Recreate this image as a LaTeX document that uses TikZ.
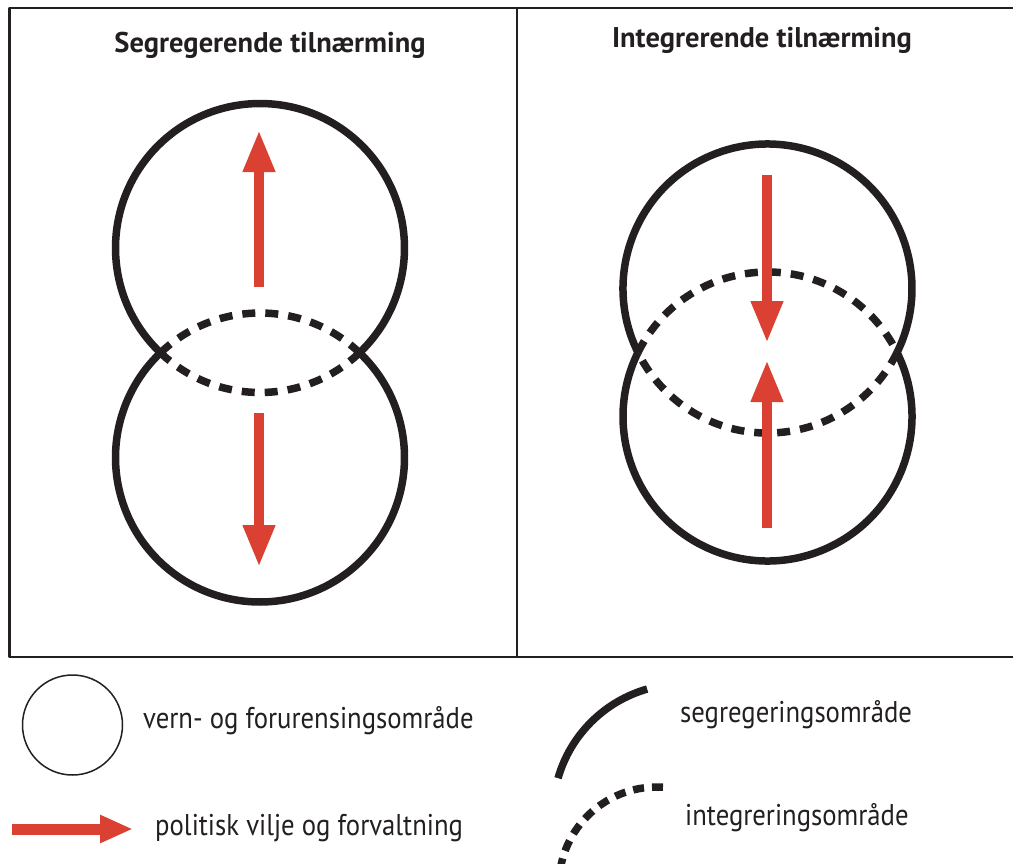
\documentclass[tikz,border=0pt]{standalone}
\usepackage{fontspec}
\setmainfont{PT Sans}
\newfontfamily\legendfont[FakeStretch=0.89]{PT Sans}
\usetikzlibrary{arrows.meta}
\definecolor{arrowred}{RGB}{218,65,50}
\definecolor{inkblack}{RGB}{35,31,32}

\begin{document}
\begin{tikzpicture}[line cap=butt,line join=round,x=1pt,y=-1pt,
  zone/.style={line width=7.5pt,color=inkblack},
  overlap/.style={zone,dash pattern=on 13pt off 10pt},
  policy/.style={line width=10pt,color=arrowred,-{Triangle[length=42pt,width=30pt]}},
  paneltitle/.style={inner sep=0pt,anchor=base,color=inkblack,font=\fontsize{28.5}{31}\selectfont\bfseries},
  legendtext/.style={inner sep=0pt,anchor=base west,color=inkblack,font=\legendfont\fontsize{30}{33}\selectfont}]
\clip(0,0) rectangle (1013,863);
\draw [line width=2.5pt,color=inkblack] (1020,8)-- (9.5,8)-- (9.5,657)-- (1020,657);
\draw [line width=2.5pt,color=inkblack] (517,8)-- (517,657);
\node[paneltitle] (segtitle) at (270,52) {Segregerende tilnærming};
\node[paneltitle] (inttitle) at (762,47) {Integrerende tilnærming};
% segregerende
\coordinate (segtop) at (260,248);
\coordinate (segbot) at (260,457.5);
\draw [zone] (segtop) ++(133.5:144.5) arc[start angle=133.5,end angle=406.5,radius=144.5];
\draw [zone] (segbot) ++(-46.5:144.5) arc[start angle=-46.5,end angle=226.5,radius=144.5];
\draw [overlap] (segtop) ++(46.5:144.5) arc[start angle=46.5,end angle=133.5,radius=144.5];
\draw [overlap] (segbot) ++(226.5:144.5) arc[start angle=226.5,end angle=313.5,radius=144.5];
\draw [policy] (259,287)-- (259,130);
\draw [policy] (259,413)-- (259,567);
% integrerende
\coordinate (inttop) at (767.5,288.5);
\coordinate (intbot) at (767.5,416.5);
\draw [zone] (inttop) ++(153.7:144.5) arc[start angle=153.7,end angle=386.3,radius=144.5];
\draw [zone] (intbot) ++(-26.3:144.5) arc[start angle=-26.3,end angle=206.3,radius=144.5];
\draw [overlap] (inttop) ++(26.3:144.5) arc[start angle=26.3,end angle=153.7,radius=144.5];
\draw [overlap] (intbot) ++(206.3:144.5) arc[start angle=206.3,end angle=333.7,radius=144.5];
\draw [policy] (767,175)-- (767,343);
\draw [policy] (767,528)-- (767,360);
% legend
\node[draw,circle,minimum size=100pt,inner sep=0pt,line width=1.5pt,color=inkblack] (zonekey) at (72.5,725) {};
\node[legendtext] (zonelabel) at (143,728) {vern- og forurensingsområde};
\draw [policy,line width=11pt,-{Triangle[length=33pt,width=26pt]}] (12,829)-- (133,829);
\node[legendtext] (policylabel) at (155,835) {politisk vilje og forvaltning};
\draw [zone,line width=7.5pt] (683,814) ++(254:130) arc[start angle=254,end angle=196,radius=130];
\node[legendtext] (seglabel) at (680,722) {segregeringsområde};
\draw [zone,line width=7.5pt,dash pattern=on 11pt off 8pt] (657,885) ++(273.5:98) arc[start angle=273.5,end angle=185,radius=98];
\node[legendtext] (intlabel) at (685,825) {integreringsområde};
\end{tikzpicture}
\end{document}
